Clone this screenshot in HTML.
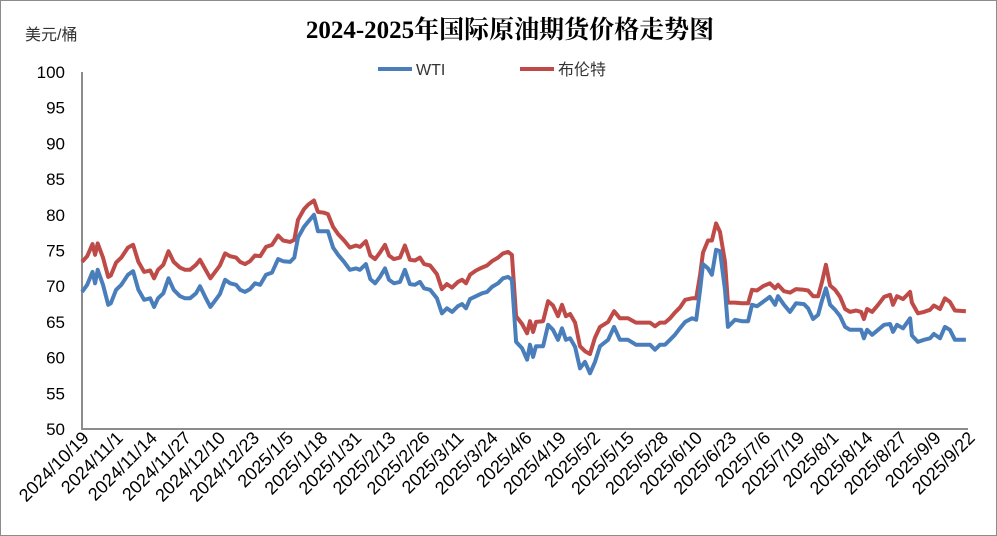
<!DOCTYPE html>
<html><head><meta charset="utf-8"><style>
html,body{margin:0;padding:0;background:#fff;}
#wrap{position:relative;width:997px;height:536px;overflow:hidden;}
svg text{font-family:"Liberation Sans","Noto Sans CJK SC",sans-serif;}
</style></head><body>
<div id="wrap">
<svg id="chart" width="997" height="536">
  <rect x="0.5" y="0.5" width="996" height="535" fill="#fff" stroke="#8c8c8c"/>
  <text x="510" y="38" text-anchor="middle" font-size="25" font-weight="bold" style='font-family:"Liberation Serif","Noto Serif CJK SC",serif' fill="#000">2024-2025年国际原油期货价格走势图</text>
  <text x="25" y="40" font-size="16" fill="#333">美元/桶</text>
  <g>
    <g>
      <line x1="378" y1="69" x2="412" y2="69" stroke="#4a7ebb" stroke-width="4"/>
      <text x="416" y="75" font-size="16" fill="#333">WTI</text>
    </g>
    <g>
      <line x1="520" y1="69" x2="554" y2="69" stroke="#be4b48" stroke-width="4"/>
      <text x="558" y="75" font-size="16" fill="#333">布伦特</text>
    </g>
  </g>
  <g id="yticks"></g>
  <g id="xticks"></g>
  <g id="series"></g>
</svg>
</div>
<script>
// days since 2024/10/19
const days = [0,2,4,5,6,8,10,11,13,15,17.5,19.5,21.5,23.7,26,27.5,29,31,33,35,37.4,39.3,41.2,43.5,45,47,49,51,52.6,54.6,56.5,58.8,60.3,62.2,64.1,66,68,70.2,72.5,74.8,76.7,79.4,81,82.4,84.7,86.2,88.5,90,92.3,93.8,95.8,97.7,100,102.2,104.5,106,108.3,110,111.8,113.7,115.6,117.1,119,121.3,123.2,125.1,127,128.9,130.5,132.8,135.4,137.3,139.2,141.2,143.4,145,146.5,148,150.3,152.6,154.5,156.4,158.7,160.6,162.5,164,165.6,167.9,169.8,170.9,172.1,173.2,175.9,177.8,179.7,181.6,183.1,184.6,186.2,188.1,190,191.9,193.8,195.7,197.6,200.7,203,205.2,208.3,211.3,214.8,216.7,218.6,220.5,222.4,224.3,226.2,228.1,230.1,232.7,234.3,235.8,236.9,238.8,240.3,241.9,243.4,245.3,246.4,249.1,251.8,254.1,255.6,257.5,259.8,262.4,264.4,265.5,267.8,270.1,272.4,275.4,277,278.9,280.8,282.3,283.8,285.4,287.3,289.2,291.1,293,295.3,297.2,298.3,299.5,301.4,303.7,306,308.3,309.4,310.9,313.2,315.9,316.6,318.9,321.2,323.5,325,327.3,329.2,331.1,333,337.2];
const wti = [69.2,70.2,72,70.4,72.3,70.2,67.4,67.6,69.5,70.2,71.6,72.1,69.5,68.1,68.3,67.1,68.3,69,71.1,69.5,68.6,68.3,68.3,69,70,68.5,67.1,68.1,68.9,70.9,70.4,70.2,69.5,69.2,69.6,70.4,70.2,71.6,71.9,73.8,73.5,73.4,74,76.8,78.3,79,80,77.7,77.7,77.7,75.4,74.4,73.4,72.3,72.5,72.3,73.1,71,70.4,71.3,72.5,70.9,70.4,70.6,72.3,70.3,70.2,70.6,69.7,69.5,68.3,66.2,66.9,66.4,67.2,67.5,66.9,68.2,68.6,69,69.2,69.9,70.4,71.1,71.3,70.9,62.2,61.3,59.7,61.8,60.1,61.6,61.6,64.6,63.9,62.5,64.1,62.5,62.7,61.5,58.5,59.4,57.8,59.4,61.6,62.5,64.3,62.5,62.5,61.8,61.8,61.8,61.1,61.8,61.8,62.5,63.2,64.1,65,65.5,65.3,69.5,73.1,72.5,71.6,75.1,74.9,69.5,64.3,65.3,65.1,65.1,67.4,67.2,67.8,68.5,67.4,68.6,67.4,66.4,67.6,67.5,66.9,65.4,66,68,69.7,67.4,66.7,65.8,64.3,63.9,63.9,63.9,62.7,63.9,63.2,63.9,64.6,64.7,63.6,64.6,64.1,65.5,63.1,62.2,62.5,62.7,63.3,62.7,64.3,63.9,62.5,62.5];
const brent = [73.4,74.2,75.9,74.4,76,74,71.3,71.5,73.3,74,75.4,75.8,73.4,72,72.2,71.1,72.3,73,74.9,73.4,72.6,72.3,72.3,73,73.7,72.4,71.1,72.1,72.9,74.6,74.2,74,73.4,73.1,73.5,74.3,74.2,75.5,75.8,77.1,76.4,76.2,76.5,79.3,80.8,81.4,82,80.4,80.3,80.1,78.3,77.3,76.4,75.4,75.7,75.5,76.3,74.3,73.8,74.7,75.8,74.3,73.8,74,75.7,73.7,73.6,74,73.1,72.9,71.7,69.6,70.3,69.8,70.6,70.9,70.4,71.6,72.2,72.6,72.9,73.5,74,74.6,74.8,74.4,65.8,64.7,63.4,65.1,63.6,65,65.1,67.9,67.3,65.8,67.4,65.8,66.1,64.9,61.6,60.9,60.5,62.8,64.3,65,66.5,65.5,65.5,64.9,64.9,64.9,64.4,64.9,64.9,65.5,66.3,67,68.1,68.3,68.3,71.6,74.7,76.4,76.4,78.8,77.6,73.4,67.7,67.7,67.6,67.6,69.5,69.4,70,70.4,69.7,70.2,69.3,69.1,69.6,69.5,69.4,68.6,68.6,70.6,73,70.1,69.5,68.5,66.8,66.4,66.6,66.4,65.4,66.8,66.4,67.4,68.5,68.8,67.4,68.6,68.2,69.2,67.7,66.2,66.4,66.7,67.3,66.8,68.3,67.8,66.6,66.5];
const tickLabels = ["2024/10/19","2024/11/1","2024/11/14","2024/11/27","2024/12/10","2024/12/23","2025/1/5","2025/1/18","2025/1/31","2025/2/13","2025/2/26","2025/3/11","2025/3/24","2025/4/6","2025/4/19","2025/5/2","2025/5/15","2025/5/28","2025/6/10","2025/6/23","2025/7/6","2025/7/19","2025/8/1","2025/8/14","2025/8/27","2025/9/9","2025/9/22"];
const tickStepDays = 13;
const yTicks = [100,95,90,85,80,75,70,65,60,55,50];

const NS = "http://www.w3.org/2000/svg";
const X0 = 82, X1 = 968, Y0 = 429, Y1 = 72, DMAX = 338, VMIN = 50, VMAX = 100;
const xs = d => X0 + (d / DMAX) * (X1 - X0);
const ys = v => Y0 - (v - VMIN) / (VMAX - VMIN) * (Y0 - Y1);
function mk(tag, attrs, parent) {
  const el = document.createElementNS(NS, tag);
  for (const k in attrs) el.setAttribute(k, attrs[k]);
  parent.appendChild(el);
  return el;
}
const yg = document.getElementById('yticks');
yTicks.forEach(v => {
  const t = mk('text', {x: 65, y: ys(v) + 6, 'text-anchor': 'end', 'font-size': 17, fill: '#000'}, yg);
  t.textContent = v;
  
  
});
const ax = mk('path', {d: `M${X0},${Y1} L${X0},${Y0} L${X1},${Y0}`, fill: 'none', stroke: '#8c8c8c', 'stroke-width': 2}, yg);


const xg = document.getElementById('xticks');
tickLabels.forEach((lab, i) => {
  const x = xs(i * tickStepDays);
  const t = mk('text', {x: 0, y: 0, 'text-anchor': 'end', 'font-size': 18, fill: '#000',
    transform: `translate(${x + 8},${Y0 + 10}) rotate(-45)`}, xg);
  t.textContent = lab;
  
  
});
const sg = document.getElementById('series');
function line(vals, color, name) {
  const d = vals.map((v, i) => (i ? 'L' : 'M') + xs(days[i]).toFixed(1) + ',' + ys(v).toFixed(1)).join(' ');
  const p = mk('path', {d, fill: 'none', stroke: color, 'stroke-width': 4, 'stroke-linejoin': 'round'}, sg);
  
  
}
line(brent, '#be4b48', 'brent-line');
line(wti, '#4a7ebb', 'wti-line');
</script>
</body></html>
